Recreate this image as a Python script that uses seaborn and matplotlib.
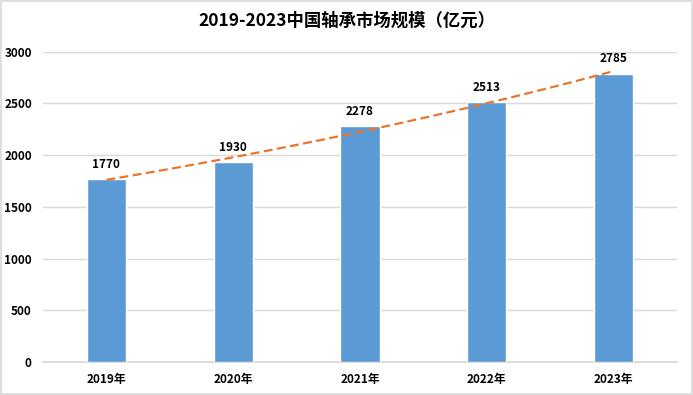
import numpy as np
import pandas as pd
import seaborn as sns
import matplotlib.pyplot as plt
from matplotlib.patches import Rectangle

# data
years = ['2019年', '2020年', '2021年', '2022年', '2023年']
market_size = [1770, 1930, 2278, 2513, 2785]
y_ticks = [0, 500, 1000, 1500, 2000, 2500, 3000]

df = pd.DataFrame({'year': years, 'size': market_size})

sns.set_theme(style='white')
plt.rcParams['font.family'] = ['Noto Sans CJK SC', 'DejaVu Sans']

fig = plt.figure(figsize=(6.93, 3.95), dpi=100)
ax = fig.add_axes([0.062, 0.0835, 0.915, 0.786])

sns.barplot(data=df, x='year', y='size', color='#5B9BD5', width=0.31,
            saturation=1, ax=ax, zorder=3)

# exponential trend line (like Excel's trendline)
x = np.arange(len(market_size))
k, b = np.polyfit(x, np.log(market_size), 1)
xs = np.linspace(0, len(market_size) - 1, 50)
ax.plot(xs, np.exp(k * xs + b), color='#E8762D', linestyle='--',
        linewidth=1.6, dashes=(4, 2), zorder=4)

ax.bar_label(ax.containers[0], fmt='%d', padding=6, fontsize=8.5,
             fontweight='bold', color='black')

ax.set_ylim(0, 3000)
ax.set_xlim(-0.5, len(years) - 0.5)
ax.set_yticks(y_ticks)
ax.yaxis.grid(True, color='#D9D9D9', linewidth=1, zorder=0)
ax.set_axisbelow(True)
for s in ['top', 'right', 'left']:
    ax.spines[s].set_visible(False)
ax.spines['bottom'].set_color('#D9D9D9')
ax.tick_params(axis='both', length=0, labelsize=8.5, colors='black')
ax.tick_params(axis='y', pad=8)
ax.tick_params(axis='x', pad=8)
for lab in ax.get_xticklabels() + ax.get_yticklabels():
    lab.set_fontweight('bold')
ax.set_xlabel('')
ax.set_ylabel('')

fig.text(0.5, 0.948, '2019-2023中国轴承市场规模（亿元）', ha='center', va='center',
         fontsize=12.5, fontweight='bold', color='black')

fig.patches.append(Rectangle((0.002, 0.003), 0.996, 0.994, transform=fig.transFigure,
                             fill=False, edgecolor='#D9D9D9', linewidth=1.2))

fig.savefig('out.png', dpi=100)
